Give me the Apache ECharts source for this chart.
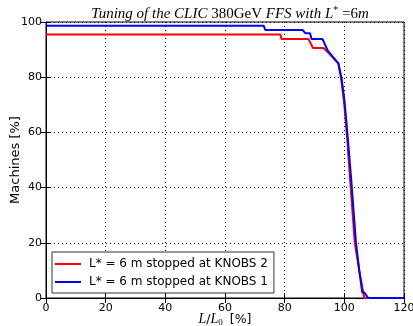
<!DOCTYPE html>
<html>
<head>
<meta charset="utf-8">
<script src="https://cdn.jsdelivr.net/npm/echarts@6/dist/echarts.min.js"></script>
<style>
  html, body { margin: 0; padding: 0; background: #fff; }
  #chart { width: 413px; height: 326px; }
</style>
</head>
<body>
<div id="chart"></div>
<script>
// values
var redX = [0, 78.5, 79, 88, 89.5, 93, 94.5, 98, 99, 100, 101, 102, 103.5, 105, 106.7, 120];
var redY = [95.5, 95.5, 93.8, 93.8, 90.6, 90.6, 89, 85, 79, 70, 57, 42, 20, 10, 0, 0];
var blueX = [0, 73, 73.5, 86, 87, 88.5, 89, 92.7, 94.5, 98, 99, 100, 101, 102.3, 103.9, 105, 106, 106.7, 108, 120];
var blueY = [98.6, 98.6, 97.1, 97.1, 95.9, 95.9, 93.8, 93.8, 89.5, 85, 80, 72, 60, 43, 20, 10, 2, 2, 0, 0];
var seriesNames = ["L* = 6 m stopped at KNOBS 2", "L* = 6 m stopped at KNOBS 1"];
var xTicks = [0, 20, 40, 60, 80, 100, 120];
var yTicks = [0, 20, 40, 60, 80, 100];

function pairs(xs, ys) {
  var out = [];
  for (var i = 0; i < xs.length; i++) out.push([xs[i], ys[i]]);
  return out;
}

var chart = echarts.init(document.getElementById("chart"));

var tickStyle = { inside: true, length: 5, lineStyle: { color: "#000" } };
var gridLine = { show: true, lineStyle: { color: "#000", type: [1, 3], width: 1 } };

chart.setOption({
  animation: false,
  title: {
    text: "{i|Tuning of the CLIC }{n|380GeV}{i| FFS with }{i|L}{s|*}{n| =6}{i|m}",
    left: 225,
    textAlign: "center",
    top: 0,
    textStyle: {
      fontWeight: "normal",
      rich: {
        i: { fontFamily: "Liberation Serif", fontStyle: "italic", fontWeight: "normal", fontSize: 15, color: "#000" },
        n: { fontFamily: "Liberation Serif", fontWeight: "normal", fontSize: 15, color: "#000" },
        s: { fontFamily: "Liberation Serif", fontWeight: "normal", fontSize: 10, color: "#000", verticalAlign: "top", padding: [0, 0, 8, 0] }
      }
    }
  },
  grid: { left: 46, right: 9, top: 22, bottom: 28, outerBoundsMode: "none", show: true, borderColor: "#000", borderWidth: 1 },
  legend: {
    orient: "vertical",
    left: 52,
    top: 252,
    itemWidth: 26,
    itemHeight: 2,
    itemGap: 4,
    padding: [5, 6, 4, 3],
    borderColor: "#333",
    borderWidth: 1,
    backgroundColor: "#fff",
    icon: "rect",
    textStyle: { fontFamily: "DejaVu Sans", fontSize: 12, lineHeight: 14, color: "#000", padding: [0, 0, 0, 3] },
    data: seriesNames
  },
  xAxis: [{
    type: "value",
    min: 0, max: 120, interval: 20,
    name: "{i|L}{n|/}{i|L}{sub|0}{n| [%]}",
    nameLocation: "middle",
    nameGap: 14,
    nameMoveOverlap: false,
    nameTextStyle: {
      rich: {
        i: { fontFamily: "Liberation Serif", fontStyle: "italic", fontSize: 14, color: "#000" },
        n: { fontFamily: "DejaVu Sans", fontSize: 12.5, color: "#000" },
        sub: { fontFamily: "Liberation Serif", fontSize: 9, color: "#000", verticalAlign: "bottom", padding: [6, 3, 0, 0] }
      }
    },
    axisLine: { lineStyle: { color: "#000" } },
    axisTick: tickStyle,
    axisLabel: { color: "#000", fontFamily: "DejaVu Sans", fontSize: 11, margin: 5 },
    splitLine: gridLine
  }, {
    type: "value", position: "top",
    min: 0, max: 120, interval: 20,
    axisLine: { show: false }, axisTick: tickStyle, axisLabel: { show: false }, splitLine: { show: false }
  }],
  yAxis: [{
    type: "value",
    min: 0, max: 100, interval: 20,
    name: "Machines [%]",
    nameLocation: "middle",
    nameGap: 24,
    nameMoveOverlap: false,
    nameTextStyle: { fontFamily: "DejaVu Sans", fontSize: 13, color: "#000" },
    axisLine: { lineStyle: { color: "#000" } },
    axisTick: tickStyle,
    axisLabel: { color: "#000", fontFamily: "DejaVu Sans", fontSize: 11, margin: 4 },
    splitLine: gridLine
  }, {
    type: "value", position: "right",
    min: 0, max: 100, interval: 20,
    axisLine: { show: false }, axisTick: tickStyle, axisLabel: { show: false }, splitLine: { show: false }
  }],
  series: [{
    name: seriesNames[0],
    type: "line",
    data: pairs(redX, redY),
    symbol: "none",
    color: "#ff0000",
    lineStyle: { color: "#ff0000", width: 2 }
  }, {
    name: seriesNames[1],
    type: "line",
    data: pairs(blueX, blueY),
    symbol: "none",
    color: "#0000ff",
    lineStyle: { color: "#0000ff", width: 2 }
  }]
});
</script>
</body>
</html>
